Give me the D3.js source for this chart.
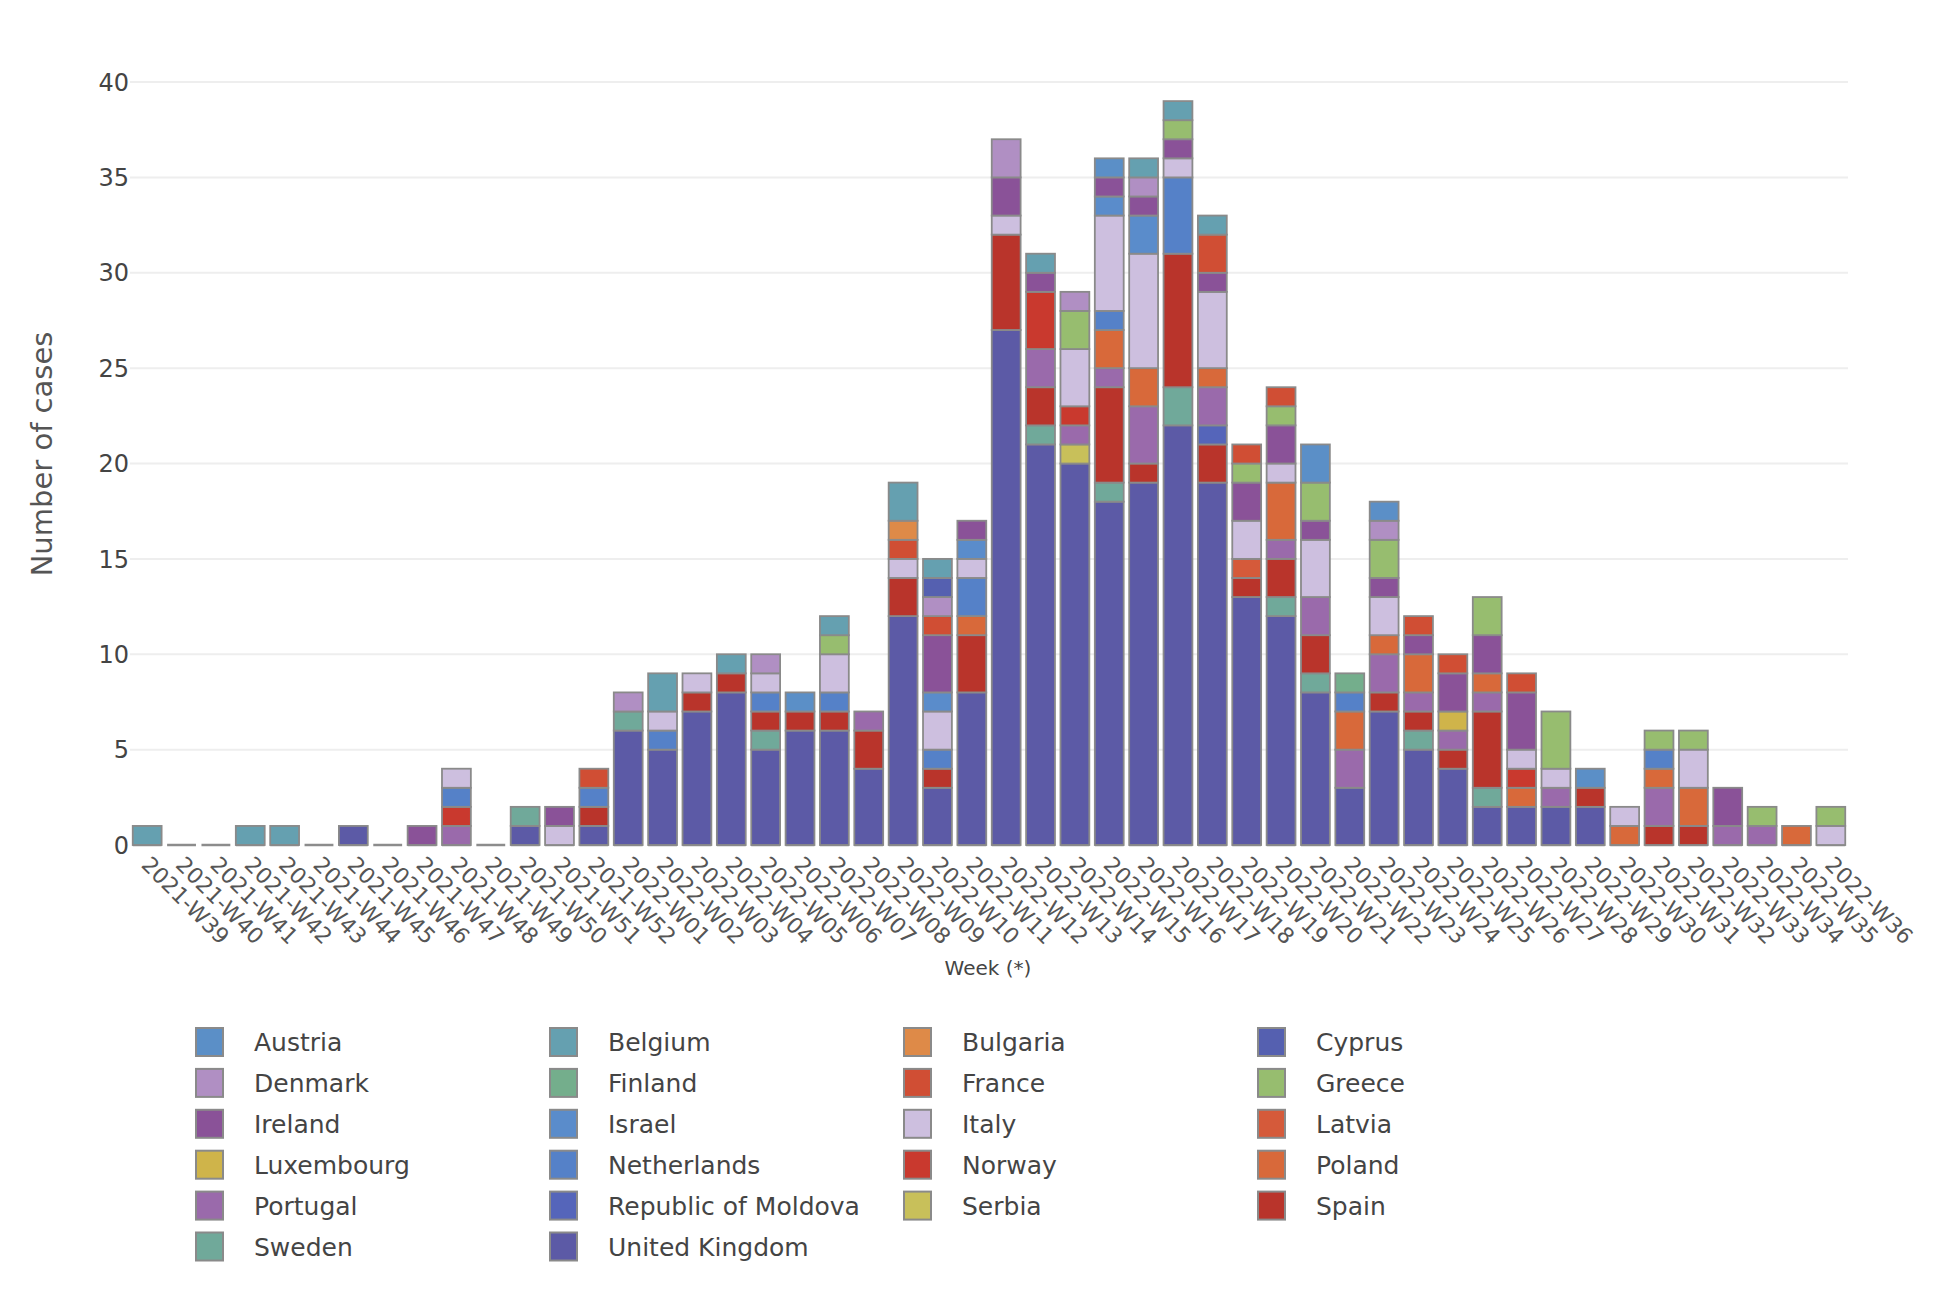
<!DOCTYPE html>
<html>
<head>
<meta charset="utf-8">
<script src="https://cdn.jsdelivr.net/npm/d3@7"></script>
<style>
  body { margin: 0; background: #fff; }
  text { font-family: Verdana, "DejaVu Sans", sans-serif; }
</style>
</head>
<body>
<div id="chart"></div>
<script>
// weeks shown on the x axis
const weeks = [
    "2021-W39", "2021-W40", "2021-W41", "2021-W42", "2021-W43", "2021-W44", "2021-W45", "2021-W46", "2021-W47", "2021-W48",
    "2021-W49", "2021-W50", "2021-W51", "2021-W52", "2022-W01", "2022-W02", "2022-W03", "2022-W04", "2022-W05", "2022-W06",
    "2022-W07", "2022-W08", "2022-W09", "2022-W10", "2022-W11", "2022-W12", "2022-W13", "2022-W14", "2022-W15", "2022-W16",
    "2022-W17", "2022-W18", "2022-W19", "2022-W20", "2022-W21", "2022-W22", "2022-W23", "2022-W24", "2022-W25", "2022-W26",
    "2022-W27", "2022-W28", "2022-W29", "2022-W30", "2022-W31", "2022-W32", "2022-W33", "2022-W34", "2022-W35", "2022-W36"
];

// cases per week, one array per country (same order as weeks)
const austria     = [0,0,0,0,0,0,0,0,0,0, 0,0,0,0,0,0,0,0,0,1, 0,0,0,0,0,0,0,0,1,0, 0,0,0,0,2,0,1,0,0,0, 0,0,1,0,0,0,0,0,0,0];
const belgium     = [1,0,0,1,1,0,0,0,0,0, 0,0,0,0,0,2,0,1,0,0, 1,0,2,1,0,0,1,0,0,1, 1,1,0,0,0,0,0,0,0,0, 0,0,0,0,0,0,0,0,0,0];
const bulgaria    = [0,0,0,0,0,0,0,0,0,0, 0,0,0,0,0,0,0,0,0,0, 0,0,1,0,0,0,0,0,0,0, 0,0,0,0,0,0,0,0,0,0, 0,0,0,0,0,0,0,0,0,0];
const cyprus      = [0,0,0,0,0,0,0,0,0,0, 0,0,0,0,0,0,0,0,0,0, 0,0,0,1,0,0,0,0,0,0, 0,0,0,0,0,0,0,0,0,0, 0,0,0,0,0,0,0,0,0,0];
const denmark     = [0,0,0,0,0,0,0,0,0,0, 0,0,0,0,1,0,0,0,1,0, 0,0,0,1,0,2,0,1,0,1, 0,0,0,0,0,0,1,0,0,0, 0,0,0,0,0,0,0,0,0,0];
const finland     = [0,0,0,0,0,0,0,0,0,0, 0,0,0,0,0,0,0,0,0,0, 0,0,0,0,0,0,0,0,0,0, 0,0,0,0,0,1,0,0,0,0, 0,0,0,0,0,0,0,0,0,0];
const france      = [0,0,0,0,0,0,0,0,0,0, 0,0,0,1,0,0,0,0,0,0, 0,0,1,1,0,0,0,0,0,0, 0,2,1,1,0,0,0,1,1,0, 1,0,0,0,0,0,0,0,0,0];
const greece      = [0,0,0,0,0,0,0,0,0,0, 0,0,0,0,0,0,0,0,0,0, 1,0,0,0,0,0,0,2,0,0, 1,0,1,1,2,0,2,0,0,2, 0,3,0,0,1,1,0,1,0,1];
const ireland     = [0,0,0,0,0,0,0,0,1,0, 0,0,1,0,0,0,0,0,0,0, 0,0,0,3,1,2,1,0,1,1, 1,1,2,2,1,0,1,1,2,2, 3,0,0,0,0,0,2,0,0,0];
const israel      = [0,0,0,0,0,0,0,0,0,0, 0,0,0,0,0,0,0,0,0,0, 0,0,0,1,1,0,0,0,1,2, 0,0,0,0,0,0,0,0,0,0, 0,0,0,0,0,0,0,0,0,0];
const italy       = [0,0,0,0,0,0,0,0,0,1, 0,0,1,0,0,1,1,0,1,0, 2,0,1,2,1,1,0,3,5,6, 1,4,2,1,3,0,2,0,0,0, 1,1,0,1,0,2,0,0,0,1];
const latvia      = [0,0,0,0,0,0,0,0,0,0, 0,0,0,0,0,0,0,0,0,0, 0,0,0,0,0,0,0,0,0,0, 0,0,1,0,0,0,0,0,0,0, 0,0,0,0,0,0,0,0,0,0];
const luxembourg  = [0,0,0,0,0,0,0,0,0,0, 0,0,0,0,0,0,0,0,0,0, 0,0,0,0,0,0,0,0,0,0, 0,0,0,0,0,0,0,0,1,0, 0,0,0,0,0,0,0,0,0,0];
const netherlands = [0,0,0,0,0,0,0,0,0,1, 0,0,0,1,0,1,0,0,1,0, 1,0,0,1,2,0,0,0,1,0, 4,0,0,0,0,1,0,0,0,0, 0,0,0,0,1,0,0,0,0,0];
const norway      = [0,0,0,0,0,0,0,0,0,1, 0,0,0,0,0,0,0,0,0,0, 0,0,0,0,0,0,3,1,0,0, 0,0,0,0,0,0,0,0,0,0, 1,0,0,0,0,0,0,0,0,0];
const poland      = [0,0,0,0,0,0,0,0,0,0, 0,0,0,0,0,0,0,0,0,0, 0,0,0,0,1,0,0,0,2,2, 0,1,0,3,0,2,1,2,0,1, 1,0,0,1,1,2,0,0,1,0];
const portugal    = [0,0,0,0,0,0,0,0,0,1, 0,0,0,0,0,0,0,0,0,0, 0,1,0,0,0,0,2,1,1,3, 0,2,0,1,2,2,2,1,1,1, 0,1,0,0,2,0,1,1,0,0];
const moldova     = [0,0,0,0,0,0,0,0,0,0, 0,0,0,0,0,0,0,0,0,0, 0,0,0,0,0,0,0,0,0,0, 0,1,0,0,0,0,0,0,0,0, 0,0,0,0,0,0,0,0,0,0];
const serbia      = [0,0,0,0,0,0,0,0,0,0, 0,0,0,0,0,0,0,0,0,0, 0,0,0,0,0,0,0,1,0,0, 0,0,0,0,0,0,0,0,0,0, 0,0,0,0,0,0,0,0,0,0];
const spain       = [0,0,0,0,0,0,0,0,0,0, 0,0,0,1,0,0,1,1,1,1, 1,2,2,1,3,5,2,0,5,1, 7,2,1,2,2,0,1,1,1,4, 0,0,1,0,1,1,0,0,0,0];
const sweden      = [0,0,0,0,0,0,0,0,0,0, 0,1,0,0,1,0,0,0,1,0, 0,0,0,0,0,0,1,0,1,0, 2,0,0,1,1,0,0,1,0,1, 0,0,0,0,0,0,0,0,0,0];
const uk          = [0,0,0,0,0,0,1,0,0,0, 0,1,0,1,6,5,7,8,5,6, 6,4,12,3,8,27,21,20,18,19, 22,19,13,12,8,3,7,5,4,2, 2,2,2,0,0,0,0,0,0,0];

const countries = ["Austria", "Belgium", "Bulgaria", "Cyprus", "Denmark", "Finland", "France", "Greece",
    "Ireland", "Israel", "Italy", "Latvia", "Luxembourg", "Netherlands", "Norway", "Poland",
    "Portugal", "Republic of Moldova", "Serbia", "Spain", "Sweden", "United Kingdom"];
const series = [austria, belgium, bulgaria, cyprus, denmark, finland, france, greece,
    ireland, israel, italy, latvia, luxembourg, netherlands, norway, poland,
    portugal, moldova, serbia, spain, sweden, uk];
const colors = ["#5b8fc7", "#65a0b0", "#de8a48", "#5560b0", "#b08fc3", "#74ae8c", "#d04e34", "#97bd6f",
    "#8a5298", "#5a8ccb", "#cdbfdf", "#d55a3a", "#cfb44a", "#5581c8", "#c9392e", "#d8693a",
    "#9a6aab", "#5565ba", "#c8c05a", "#b9342b", "#70a99a", "#5c5aa6"];
const yTicks = [0, 5, 10, 15, 20, 25, 30, 35, 40];

document.addEventListener('DOMContentLoaded', function() {
    const W = 1942, H = 1290;
    const svg = d3.select('#chart').append('svg')
        .attr('width', W)
        .attr('height', H)
        .style('background', '#fff');

    const x = d3.scaleBand().domain(weeks).range([130, 1848]).paddingInner(0.16).paddingOuter(0.08);
    const y = d3.scaleLinear().domain([0, 41.05]).range([845, 62]);
    const color = d3.scaleOrdinal().domain(countries).range(colors);

    // table for the stack: one row per week
    const table = weeks.map((w, i) => {
        const row = {week: w};
        countries.forEach((c, k) => row[c] = series[k][i]);
        return row;
    });
    // first country in reverse alphabetical order sits at the bottom
    const stackKeys = countries.slice().reverse();
    const layers = d3.stack().keys(stackKeys)(table);

    // gridlines
    svg.append('g').selectAll('line')
        .data(yTicks.filter(t => t > 0))
        .enter().append('line')
        .attr('x1', 130).attr('x2', 1848)
        .attr('y1', d => y(d)).attr('y2', d => y(d))
        .attr('stroke', '#eeeeee')
        .attr('stroke-width', 2);

    // y tick labels
    svg.append('g').selectAll('text')
        .data(yTicks)
        .enter().append('text')
        .attr('x', 129)
        .attr('y', d => y(d))
        .attr('dy', '0.36em')
        .attr('text-anchor', 'end')
        .attr('font-size', 24)
        .attr('fill', '#444')
        .text(d => d);

    // baseline under every bar (shows for empty weeks)
    svg.append('g').selectAll('line')
        .data(weeks)
        .enter().append('line')
        .attr('x1', d => x(d))
        .attr('x2', d => x(d) + x.bandwidth())
        .attr('y1', y(0)).attr('y2', y(0))
        .attr('stroke', '#8c8c8c')
        .attr('stroke-width', 2.5);

    // stacked bars
    svg.append('g').selectAll('g')
        .data(layers)
        .enter().append('g')
        .attr('fill', d => color(d.key))
        .selectAll('rect')
        .data(d => d.filter(s => s[1] - s[0] > 0))
        .enter().append('rect')
        .attr('x', d => x(d.data.week))
        .attr('y', d => y(d[1]))
        .attr('width', x.bandwidth())
        .attr('height', d => y(d[0]) - y(d[1]))
        .attr('stroke', '#8a8a8a')
        .attr('stroke-width', 1.8);

    // x tick labels, rotated 45 degrees
    svg.append('g').selectAll('text')
        .data(weeks)
        .enter().append('text')
        .attr('transform', d => `translate(${x(d) + x.bandwidth() / 2 - 7},866) rotate(45)`)
        .attr('font-size', 22)
        .attr('fill', '#555')
        .text(d => d);

    // axis titles
    svg.append('text')
        .attr('x', 988).attr('y', 975)
        .attr('text-anchor', 'middle')
        .attr('font-size', 20)
        .attr('fill', '#444')
        .text('Week (*)');

    svg.append('text')
        .attr('transform', 'translate(52,454) rotate(-90)')
        .attr('text-anchor', 'middle')
        .attr('font-size', 29)
        .attr('fill', '#555')
        .text('Number of cases');

    // legend, 4 columns, filled row by row
    const legend = svg.append('g').selectAll('g')
        .data(countries)
        .enter().append('g')
        .attr('transform', (d, i) => `translate(${196 + (i % 4) * 354},${1042 + Math.floor(i / 4) * 40.9})`);

    legend.append('rect')
        .attr('x', 0).attr('y', -14)
        .attr('width', 27).attr('height', 28)
        .attr('fill', d => color(d))
        .attr('stroke', '#8a8a8a')
        .attr('stroke-width', 2);

    legend.append('text')
        .attr('x', 58)
        .attr('dy', '0.36em')
        .attr('font-size', 25)
        .attr('fill', '#444')
        .text(d => d);
});
</script>
</body>
</html>
